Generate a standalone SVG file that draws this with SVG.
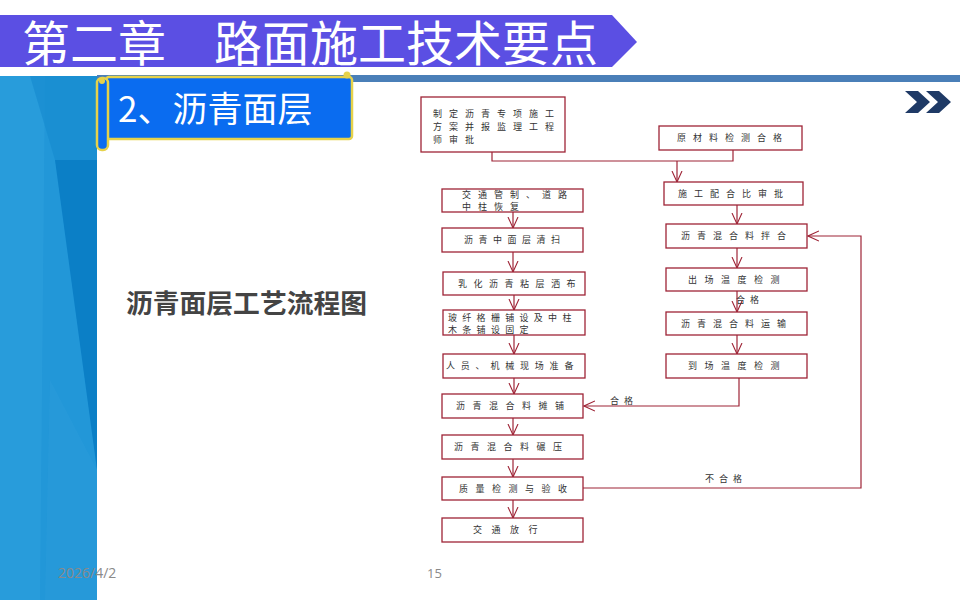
<svg xmlns="http://www.w3.org/2000/svg" width="960" height="600" viewBox="0 0 960 600">
<defs>
<style>
.box{fill:#fff;stroke:#9e2436;stroke-width:1.3}
.ln{fill:none;stroke:#9e2436;stroke-width:1.2}
.t{font-family:"Noto Sans CJK SC","Noto Sans",sans-serif;font-size:9px;fill:#333;letter-spacing:7px}
.lbl{font-family:"Noto Sans CJK SC","Noto Sans",sans-serif;font-size:9px;fill:#333;letter-spacing:5px}
</style>
<marker id="ah" viewBox="0 0 12 12" refX="11" refY="6" markerWidth="12" markerHeight="12" markerUnits="userSpaceOnUse" orient="auto">
<path d="M0,1 L11,6 L0,11" fill="none" stroke="#9e2436" stroke-width="1.1"/>
</marker>
</defs>
<rect width="960" height="600" fill="#fff"/>
<!-- left panel -->
<g id="left-panel">
<rect x="0" y="76" width="97" height="524" fill="#2297d8"/>
<polygon points="0,76 45,76 40,600 0,600" fill="#2a9edc" opacity="0.8"/>
<polygon points="55,160 97,160 97,470" fill="#0b7fc6"/>
<polygon points="30,76 97,76 97,160 55,160" fill="#178bd0" opacity="0.7"/>
<polygon points="50,380 97,470 97,600 45,600" fill="#2a9bdb" opacity="0.6"/>
</g>
<!-- header band -->
<g id="header">
<polygon points="0,15 612,15 637,42 612,67 0,67" fill="#5b4fe3"/>
<text x="22" y="61" font-family="'Noto Sans CJK SC','Noto Sans',sans-serif" font-size="48" fill="#fff" textLength="576" lengthAdjust="spacingAndGlyphs">第二章　路面施工技术要点</text>
<rect x="97" y="75" width="863" height="7" fill="#4a7fb8"/>
</g>
<g id="chevrons" fill="#1f3a66">
<polygon points="905,91 918,91 930,102 918,113 905,113 917,102"/>
<polygon points="926,91 939,91 951,102 939,113 926,113 938,102"/>
</g>
<!-- scroll -->
<g id="section-title">
<rect x="106" y="77" width="246" height="62" rx="3" fill="#0a6cf0" stroke="#e6d24a" stroke-width="2.5"/>
<rect x="97" y="78" width="11" height="72" rx="5" fill="#0a6cf0" stroke="#e6d24a" stroke-width="2.5"/>
<circle cx="102" cy="81" r="3" fill="#e6d24a"/>
<circle cx="347" cy="75" r="3.5" fill="#e6d24a"/>
<text x="118" y="122" font-family="'Noto Sans CJK SC','Noto Sans',sans-serif" font-size="35" fill="#fff">2、沥青面层</text>
</g>
<text x="126" y="313" font-family="'Noto Sans CJK SC','Noto Sans',sans-serif" font-size="26" font-weight="bold" fill="#444" textLength="241" lengthAdjust="spacingAndGlyphs">沥青面层工艺流程图</text>
<text x="58" y="578" font-family="'Open Sans','Liberation Sans',sans-serif" font-size="14" fill="#8a8a8a">2026/4/2</text>
<text x="427" y="578" font-family="'Open Sans','Liberation Sans',sans-serif" font-size="13" fill="#8a8a8a">15</text>
<!-- connectors -->
<g id="connectors">
<polyline class="ln" points="492,152 492,161 733,161 733,150"/>
<line class="ln" x1="677" y1="161" x2="677" y2="182" marker-end="url(#ah)"/>
<line class="ln" x1="513" y1="212" x2="513" y2="228" marker-end="url(#ah)"/>
<line class="ln" x1="513" y1="252" x2="513" y2="272" marker-end="url(#ah)"/>
<line class="ln" x1="514" y1="295" x2="514" y2="310" marker-end="url(#ah)"/>
<line class="ln" x1="514" y1="335" x2="514" y2="354" marker-end="url(#ah)"/>
<line class="ln" x1="514" y1="378" x2="514" y2="394" marker-end="url(#ah)"/>
<line class="ln" x1="513" y1="418" x2="513" y2="435" marker-end="url(#ah)"/>
<line class="ln" x1="513" y1="459" x2="513" y2="477" marker-end="url(#ah)"/>
<line class="ln" x1="513" y1="500" x2="513" y2="518" marker-end="url(#ah)"/>
<line class="ln" x1="737" y1="205" x2="737" y2="224" marker-end="url(#ah)"/>
<line class="ln" x1="737" y1="248" x2="737" y2="268" marker-end="url(#ah)"/>
<line class="ln" x1="737" y1="291" x2="737" y2="312" marker-end="url(#ah)"/>
<line class="ln" x1="737" y1="335" x2="737" y2="354" marker-end="url(#ah)"/>
<polyline class="ln" points="739,378 739,406 584,406" marker-end="url(#ah)"/>
<polyline class="ln" points="583,488 861,488 861,236 808,236" marker-end="url(#ah)"/>
<text class="lbl" x="736" y="303">合格</text>
<text class="lbl" x="610" y="404">合格</text>
<text class="lbl" x="705" y="482">不合格</text>
</g>
<!-- nodes -->
<g id="n1"><rect class="box" x="421" y="97" width="144" height="55"/><text class="t" x="433" y="117">制定沥青专项施工</text><text class="t" x="433" y="130">方案并报监理工程</text><text class="t" x="433" y="143">师审批</text></g>
<g id="n2"><rect class="box" x="659" y="126" width="143" height="24"/><text class="t" x="677" y="141">原材料检测合格</text></g>
<g id="n3"><rect class="box" x="664" y="182" width="139" height="23"/><text class="t" x="678" y="197">施工配合比审批</text></g>
<g id="n4"><rect class="box" x="442" y="189" width="141" height="23"/><text class="t" x="462" y="198">交通管制、道路</text><text class="t" x="462" y="210">中柱恢复</text></g>
<g id="n5"><rect class="box" x="442" y="228" width="141" height="24"/><text class="t" x="464" y="243" style="letter-spacing:5.5px">沥青中面层清扫</text></g>
<g id="n6"><rect class="box" x="443" y="272" width="142" height="23"/><text class="t" x="458" y="287" style="letter-spacing:6.5px">乳化沥青粘层洒布</text></g>
<g id="n7"><rect class="box" x="443" y="310" width="142" height="25"/><text class="t" x="448" y="321" style="letter-spacing:5.3px">玻纤格栅铺设及中柱</text><text class="t" x="448" y="333" style="letter-spacing:5.3px">木条铺设固定</text></g>
<g id="n8"><rect class="box" x="443" y="354" width="142" height="24"/><text class="t" x="446" y="369" style="letter-spacing:5.8px">人员、机械现场准备</text></g>
<g id="n9"><rect class="box" x="666" y="224" width="141" height="24"/><text class="t" x="681" y="239">沥青混合料拌合</text></g>
<g id="n10"><rect class="box" x="666" y="268" width="141" height="23"/><text class="t" x="688" y="283" style="letter-spacing:7.5px">出场温度检测</text></g>
<g id="n11"><rect class="box" x="666" y="312" width="141" height="23"/><text class="t" x="681" y="327">沥青混合料运输</text></g>
<g id="n12"><rect class="box" x="666" y="354" width="141" height="24"/><text class="t" x="688" y="369" style="letter-spacing:7.5px">到场温度检测</text></g>
<g id="n13"><rect class="box" x="442" y="394" width="141" height="24"/><text class="t" x="456" y="409" style="letter-spacing:7.5px">沥青混合料摊铺</text></g>
<g id="n14"><rect class="box" x="442" y="435" width="141" height="24"/><text class="t" x="454" y="450" style="letter-spacing:7.5px">沥青混合料碾压</text></g>
<g id="n15"><rect class="box" x="442" y="477" width="141" height="23"/><text class="t" x="459" y="492" style="letter-spacing:7.5px">质量检测与验收</text></g>
<g id="n16"><rect class="box" x="442" y="518" width="141" height="24"/><text class="t" x="473" y="533" style="letter-spacing:9.5px">交通放行</text></g>
</svg>
